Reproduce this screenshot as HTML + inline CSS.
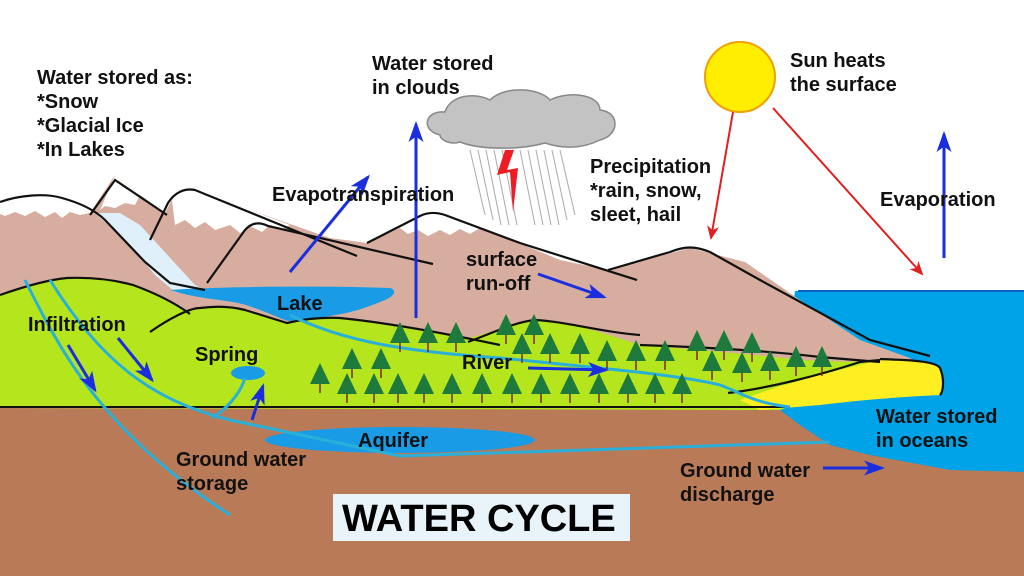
<!DOCTYPE html>
<html><head><style>
body{margin:0;width:1024px;height:576px;overflow:hidden;background:#fff}
svg text{font-family:"Liberation Sans",Arial,sans-serif;font-weight:bold;font-size:20px;fill:#111}
</style></head><body>
<svg width="1024" height="576" viewBox="0 0 1024 576">
<defs>
<g id="t"><line x1="0" y1="10" x2="0" y2="30" stroke="#7a2a10" stroke-width="1.5"/><polygon points="0,0 -10,21 10,21" fill="#1e7a3c"/></g>
<marker id="a" markerWidth="7" markerHeight="5" refX="6" refY="2.5" orient="auto" markerUnits="strokeWidth"><path d="M0,0 L7,2.5 L0,5 L1.8,2.5 z" fill="#1a2ee0"/></marker>
<marker id="r" markerWidth="7" markerHeight="6" refX="6" refY="3" orient="auto" markerUnits="strokeWidth"><path d="M0,0 L7,3 L0,6 L2,3 z" fill="#e02020"/></marker>
</defs>
<rect x="0" y="405" width="1024" height="171" fill="#b97a57"/>
<path d="M795,291 L1024,291 L1024,472 L950,470 L870,455 L830,445 L800,425 L780,410 Z" fill="#00a2e8"/>
<line x1="798" y1="291" x2="1024" y2="291" stroke="#1060c0" stroke-width="2"/>
<path d="M0,208 L30,196 L60,200 L90,213 L115,175 L140,195 L165,213 L177,190 L190,188 L250,210 L330,238 L367,243 L433,213 L500,235 L560,260 L608,270 L690,248 L745,262 L800,300 L860,340 L910,358 L935,378 L935,395 L500,380 L0,320 Z" fill="#d6ad9e"/>
<g fill="#fff">
<path d="M0,208 L30,196 L60,200 L90,213 L80,215 L70,212 L62,218 L55,212 L45,217 L35,211 L25,216 L15,212 L5,216 L0,214Z"/>
<path d="M100,210 L115,175 L140,195 L135,205 L125,203 L115,208 L105,206Z"/>
<path d="M172,200 L177,190 L190,188 L250,210 L290,225 L280,230 L270,225 L262,232 L250,226 L240,233 L230,225 L215,230 L205,222 L195,228 L185,220 L175,225Z"/>
<path d="M400,228 L433,213 L500,235 L490,233 L480,228 L470,234 L460,229 L450,235 L440,230 L428,236 L418,230 L408,234Z"/>
</g>
<path d="M95,213 L120,213 L140,225 L195,285 L205,290 L175,292 L155,275 L130,245Z" fill="#dff0fb"/>
<path d="M0,295 C20,288 45,280 67,278 C95,277 115,280 133,285 C155,293 175,303 187,312 L150,332 C170,318 190,308 200,308 C215,306 230,306 245,310 L287,323 C300,320 320,317 340,318 L470,338 C500,330 520,322 540,320 C570,322 600,332 640,345 C700,350 760,355 800,360 C840,362 870,362 910,362 L780,410 L0,408 Z" fill="#b5e61d"/>
<path d="M740,400 C780,385 830,372 880,360 C900,360 935,360 940,368 C945,380 943,392 940,395 C900,397 860,400 820,405 L760,410 Z" fill="#ffee22"/>
<path d="M170,290 C230,286 330,286 390,288 C397,290 395,296 385,300 C370,306 355,312 335,315 C310,320 295,323 285,320 C265,312 250,305 233,302 C215,299 195,298 170,290 Z" fill="#1a9be6"/>
<g fill="none" stroke="#111" stroke-width="2.2">
<path d="M0,202 C20,195 45,193 62,198 C80,203 95,210 105,220 L145,262 L170,283 L205,290"/>
<path d="M90,215 L115,180 L167,215"/>
<path d="M150,240 L168,203 C175,192 185,188 195,190 L357,256"/>
<path d="M207,283 L245,230 C252,222 260,222 268,226 L433,264"/>
<path d="M367,243 L420,216 C428,212 436,212 445,215 L520,243 L637,280"/>
<path d="M608,270 L670,252 C685,246 695,246 710,252 L760,280 L870,340 L930,356"/>
<path d="M0,295 C20,288 45,280 67,278 C95,277 115,280 133,285 C155,293 175,303 190,314"/>
<path d="M150,332 C170,318 190,308 200,308 C215,306 230,306 245,310 L287,323 C300,320 320,317 340,318 C380,322 430,330 500,345"/>
<path d="M468,342 C495,332 515,322 535,320 C570,322 600,332 640,335"/>
<path d="M640,345 C700,347 760,350 820,357 L880,362"/>
<path d="M728,393 C770,388 820,375 860,362 L880,360"/>
<path d="M880,359 C900,360 935,360 940,368 C945,380 943,392 940,395"/>
</g>
<line x1="0" y1="407" x2="790" y2="407" stroke="#111" stroke-width="2"/>
<ellipse cx="400" cy="440" rx="135" ry="13" fill="#1a9be6"/>
<ellipse cx="248" cy="373" rx="17" ry="7" fill="#1a9be6"/>
<g fill="none" stroke="#2ab0d8" stroke-width="3">
<path d="M25,280 C60,350 100,430 230,515"/>
<path d="M50,280 C100,360 150,400 230,420 L400,456 L830,442"/>
<path d="M290,315 C350,345 420,352 500,358 C600,368 680,375 720,385 C740,392 750,402 790,407"/>
<path d="M245,378 C240,395 225,410 212,418"/>
</g>
<g>
<use href="#t" x="400" y="322"/><use href="#t" x="428" y="322"/><use href="#t" x="456" y="322"/><use href="#t" x="506" y="314"/><use href="#t" x="534" y="314"/><use href="#t" x="697" y="330"/><use href="#t" x="724" y="330"/><use href="#t" x="752" y="332"/>
<use href="#t" x="352" y="348"/><use href="#t" x="381" y="348"/><use href="#t" x="522" y="333"/><use href="#t" x="550" y="333"/><use href="#t" x="580" y="333"/><use href="#t" x="607" y="340"/><use href="#t" x="636" y="340"/><use href="#t" x="665" y="340"/><use href="#t" x="712" y="350"/><use href="#t" x="742" y="352"/><use href="#t" x="770" y="350"/><use href="#t" x="796" y="346"/><use href="#t" x="822" y="346"/>
<use href="#t" x="320" y="363"/><use href="#t" x="347" y="373"/><use href="#t" x="374" y="373"/><use href="#t" x="398" y="373"/><use href="#t" x="424" y="373"/><use href="#t" x="452" y="373"/><use href="#t" x="482" y="373"/><use href="#t" x="512" y="373"/><use href="#t" x="541" y="373"/><use href="#t" x="570" y="373"/><use href="#t" x="599" y="373"/><use href="#t" x="628" y="373"/><use href="#t" x="655" y="373"/><use href="#t" x="682" y="373"/>
</g>
<circle cx="740" cy="77" r="35" fill="#ffee00" stroke="#f0a000" stroke-width="2"/>
<path d="M440,135 C420,130 425,110 445,112 C450,95 475,92 490,100 C505,85 540,88 550,100 C570,90 600,95 600,110 C620,112 620,135 600,140 C580,150 560,148 545,143 C520,150 480,150 460,142 C450,145 440,140 440,135Z" fill="#c3c3c3" stroke="#888" stroke-width="1.5"/>
<g stroke="#aaa" stroke-width="1">
<line x1="470" y1="150" x2="485" y2="215"/><line x1="478" y1="150" x2="493" y2="220"/><line x1="486" y1="150" x2="501" y2="225"/><line x1="494" y1="150" x2="509" y2="225"/><line x1="502" y1="150" x2="517" y2="225"/><line x1="520" y1="150" x2="535" y2="225"/><line x1="528" y1="150" x2="543" y2="225"/><line x1="536" y1="150" x2="551" y2="225"/><line x1="544" y1="150" x2="559" y2="225"/><line x1="552" y1="150" x2="567" y2="220"/><line x1="560" y1="150" x2="575" y2="215"/>
</g>
<path d="M505,150 L497,175 L510,172 L513,212 L518,168 L507,170 L514,150Z" fill="#ee1c24"/>
<g stroke="#1a2ee0" stroke-width="3" fill="none" marker-end="url(#a)">
<line x1="290" y1="272" x2="368" y2="177"/>
<line x1="416" y1="318" x2="416" y2="124"/>
<line x1="944" y1="258" x2="944" y2="134"/>
<line x1="538" y1="274" x2="604" y2="297"/>
<line x1="528" y1="368" x2="606" y2="370"/>
<line x1="68" y1="345" x2="95" y2="390"/>
<line x1="118" y1="338" x2="152" y2="380"/>
<line x1="252" y1="420" x2="263" y2="386"/>
<line x1="823" y1="468" x2="882" y2="468"/>
</g>
<g stroke="#e02020" stroke-width="2" fill="none" marker-end="url(#r)">
<line x1="733" y1="112" x2="711" y2="238"/>
<line x1="773" y1="108" x2="922" y2="274"/>
</g>
<text x="37" y="84">Water stored as:</text>
<text x="37" y="108">*Snow</text>
<text x="37" y="132">*Glacial Ice</text>
<text x="37" y="156">*In Lakes</text>
<text x="372" y="70">Water stored</text>
<text x="372" y="94">in clouds</text>
<text x="790" y="67">Sun heats</text>
<text x="790" y="91">the surface</text>
<text x="590" y="173">Precipitation</text>
<text x="590" y="197">*rain, snow,</text>
<text x="590" y="221">sleet, hail</text>
<text x="272" y="201">Evapotranspiration</text>
<text x="880" y="206">Evaporation</text>
<text x="466" y="266">surface</text>
<text x="466" y="290">run-off</text>
<text x="277" y="310">Lake</text>
<text x="28" y="331">Infiltration</text>
<text x="195" y="361">Spring</text>
<text x="462" y="369">River</text>
<text x="358" y="447">Aquifer</text>
<text x="176" y="466">Ground water</text>
<text x="176" y="490">storage</text>
<text x="876" y="423">Water stored</text>
<text x="876" y="447">in oceans</text>
<text x="680" y="477">Ground water</text>
<text x="680" y="501">discharge</text>
<rect x="333" y="494" width="297" height="47" fill="#e8f4fa"/>
<text x="342" y="531" style="font-size:38px;fill:#000">WATER CYCLE</text>
</svg>
</body></html>
